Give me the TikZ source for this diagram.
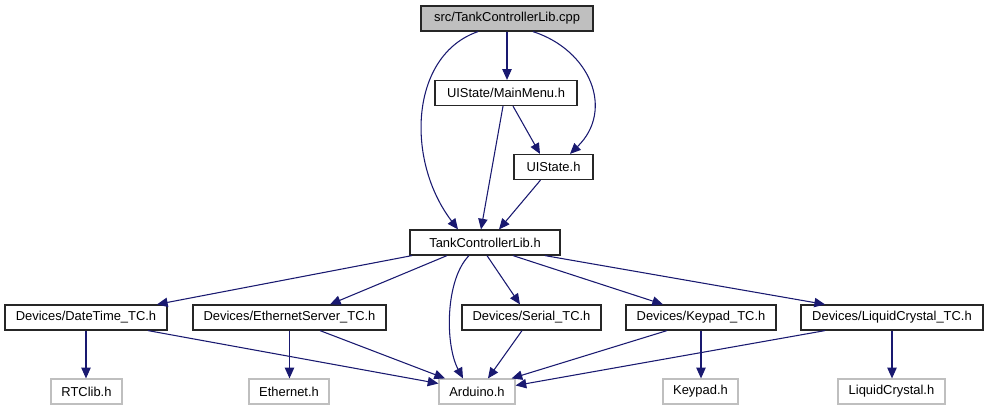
\documentclass[tikz,border=0pt]{standalone}
\usepackage{fontspec}
\setmainfont{Liberation Sans}
\usetikzlibrary{arrows.meta,calc}

\definecolor{edgeblue}{HTML}{191970}
\definecolor{extgray}{HTML}{BFBFBF}

\tikzset{
  filebox/.style={draw=black!85, fill=white, line width=0.9pt, inner sep=0pt,
    minimum height=18.75pt, font=\fontsize{9.7}{11}\selectfont},
  srcbox/.style={filebox, fill=extgray},
  extbox/.style={filebox, draw=extgray},
  incl/.style={draw=edgeblue, line width=0.8pt, -{Triangle[length=8pt,width=7pt]}}
}

\begin{document}
\begin{tikzpicture}[x=0.75pt, y=-0.75pt]
  \useasboundingbox (0,0) rectangle (989,411);

  % top part
  \node[srcbox, minimum width=129pt] (cpp) at (507,18.5) {src/TankControllerLib.cpp};
  \node[filebox, minimum width=106.5pt] (mainmenu) at (506,93) {UIState/MainMenu.h};
  \node[filebox, minimum width=59.25pt] (uistate) at (553.5,167) {UIState.h};
  \node[filebox, minimum width=112.5pt] (tcl) at (485,242.5) {TankControllerLib.h};

  % devices
  \node[filebox, minimum width=121.5pt] (datetime) at (86,317.5) {Devices/DateTime\_TC.h};
  \node[filebox, minimum width=144.75pt] (ethsrv) at (289.5,317.5) {Devices/EthernetServer\_TC.h};
  \node[filebox, minimum width=104.25pt] (serial) at (531.5,317.5) {Devices/Serial\_TC.h};
  \node[filebox, minimum width=112.5pt] (keypadtc) at (701,317.5) {Devices/Keypad\_TC.h};
  \node[filebox, minimum width=136.5pt] (lcdtc) at (892,317.5) {Devices/LiquidCrystal\_TC.h};

  % external headers
  \node[extbox, minimum width=53.25pt] (rtclib) at (86.5,391.5) {RTClib.h};
  \node[extbox, minimum width=60pt] (ethernet) at (289,391.5) {Ethernet.h};
  \node[extbox, minimum width=57pt] (arduino) at (477,391.5) {Arduino.h};
  \node[extbox, minimum width=56.25pt] (keypad) at (700.5,391.5) {Keypad.h};
  \node[extbox, minimum width=80.25pt] (lcd) at (891.5,391.5) {LiquidCrystal.h};

  \draw[incl] (cpp.south) -- (cpp.south |- mainmenu.north);
  \draw[incl] ($(cpp.south)+(-29,0)$) .. controls (410,55) and (405,160) .. ($(tcl.north)+(-27,0)$);
  \draw[incl] ($(cpp.south)+(26,0)$) .. controls (590,50) and (615,110) .. ($(uistate.north)+(16.5,0)$);
  \draw[incl] ($(mainmenu.south)+(7,0)$) -- ($(uistate.north)+(-13.5,0)$);
  \draw[incl] ($(mainmenu.south)+(-3,0)$) -- ($(tcl.north)+(-4,0)$);
  \draw[incl] ($(uistate.south)+(-13,0)$) -- ($(tcl.north)+(14,0)$);

  \draw[incl] ($(tcl.south)+(-73,0)$) -- ($(datetime.north)+(71,0)$);
  \draw[incl] ($(tcl.south)+(-38,0)$) -- ($(ethsrv.north)+(40.5,0)$);
  \draw[incl] ($(tcl.south)+(-16,0)$) .. controls (445,280) and (445,345) .. ($(arduino.north)+(-14,0)$);
  \draw[incl] ($(tcl.south)+(2,0)$) -- ($(serial.north)+(-11.5,0)$);
  \draw[incl] ($(tcl.south)+(28,0)$) -- ($(keypadtc.north)+(-38,0)$);
  \draw[incl] ($(tcl.south)+(60,0)$) -- ($(lcdtc.north)+(-67,0)$);

  \draw[incl] (datetime.south) -- (datetime.south |- rtclib.north);
  \draw[incl] ($(datetime.south)+(62,0)$) -- ($(arduino.west)+(0,-8)$);
  \draw[incl] (ethsrv.south) -- (ethsrv.south |- ethernet.north);
  \draw[incl] ($(ethsrv.south)+(30.5,0)$) -- ($(arduino.north)+(-32,0)$);
  \draw[incl] ($(serial.south)+(-9.5,0)$) -- ($(arduino.north)+(11,0)$);
  \draw[incl] ($(keypadtc.south)+(-34,0)$) -- ($(arduino.north east)+(-4,0)$);
  \draw[incl] (keypadtc.south) -- (keypadtc.south |- keypad.north);
  \draw[incl] ($(lcdtc.south)+(-67,0)$) -- ($(arduino.east)+(0,-6)$);
  \draw[incl] (lcdtc.south) -- (lcdtc.south |- lcd.north);
\end{tikzpicture}
\end{document}
